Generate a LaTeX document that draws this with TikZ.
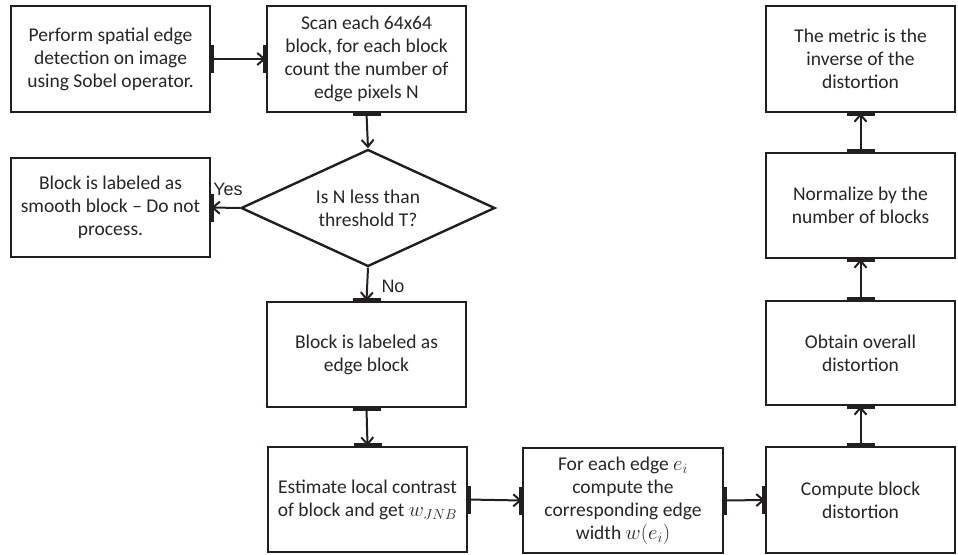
\documentclass[tikz,border=0pt]{standalone}
\usepackage{fontspec}
\setmainfont{Carlito}
\newfontfamily\labelfont{Liberation Sans}
\usetikzlibrary{shapes.geometric,arrows.meta}
\definecolor{ink}{HTML}{231F20}
\definecolor{txt}{HTML}{262626}
\tikzset{
  box/.style={draw=ink, line width=2.4pt, rectangle, align=center, inner sep=2pt,
    font=\fontsize{19.5}{23}\selectfont, text=txt},
  conn/.style={draw=ink, line width=2pt, -{Straight Barb[length=7pt,width=12pt,line width=2pt]}},
  tab/.style={draw=ink, line width=5pt},
  lbl/.style={font=\labelfont\fontsize{18}{20}\selectfont, text=txt, inner sep=0pt},
}
\begin{document}
\begin{tikzpicture}[x=1pt,y=-1pt]
\useasboundingbox (0,0) rectangle (958,554);
% boxes
\node[box, minimum width=199pt, minimum height=106pt] (b1) at (110.5,59)
  {Perform spatial edge\\detection on image\\using Sobel operator.};
\node[box, minimum width=199pt, minimum height=106pt] (b2) at (366.5,59)
  {Scan each 64x64\\block, for each block\\count the number of\\edge pixels N};
\node[draw=ink, line width=2.4pt, diamond, shape aspect=2.2, inner sep=0pt,
  minimum width=254pt, minimum height=117pt, align=center,
  font=\fontsize{19.5}{23}\selectfont, text=txt] (d) at (368,208)
  {Is N less than\\threshold T?};
\node[box, minimum width=199pt, minimum height=99pt] (sm) at (110.5,207.5)
  {Block is labeled as\\smooth block -- Do not\\process.};
\node[box, minimum width=199pt, minimum height=105pt] (eb) at (366.5,354.5)
  {Block is labeled as\\edge block};
\node[box, minimum width=199pt, minimum height=105pt] (es) at (367.5,499.5)
  {Estimate local contrast\\of block and get $w_{JNB}$};
\node[box, minimum width=200pt, minimum height=105pt] (fe) at (623,500.5)
  {For each edge $e_i$\\compute the\\corresponding edge\\width $w(e_i)$};
\node[box, minimum width=189pt, minimum height=106pt] (cb) at (860.5,500)
  {Compute block\\distortion};
\node[box, minimum width=189pt, minimum height=104pt] (ob) at (860.5,353)
  {Obtain overall\\distortion};
\node[box, minimum width=189pt, minimum height=105pt] (nb) at (860.5,205.5)
  {Normalize by the\\number of blocks};
\node[box, minimum width=189pt, minimum height=106pt] (mt) at (860.5,59)
  {The metric is the\\inverse of the\\distortion};
% connection tabs
\draw[tab] ([yshift=-14pt]b1.east) -- ([yshift=14pt]b1.east);
\draw[tab] ([yshift=-14pt]b2.west) -- ([yshift=14pt]b2.west);
\draw[tab] ([xshift=-14pt]b2.south) -- ([xshift=14pt]b2.south);
\draw[tab] ([yshift=-14pt]sm.east) -- ([yshift=14pt]sm.east);
\draw[tab] ([xshift=-14pt]eb.north) -- ([xshift=14pt]eb.north);
\draw[tab] ([xshift=-14pt]eb.south) -- ([xshift=14pt]eb.south);
\draw[tab] ([xshift=-14pt]es.north) -- ([xshift=14pt]es.north);
\draw[tab] ([yshift=-14pt]es.east) -- ([yshift=14pt]es.east);
\draw[tab] ([yshift=-14pt]fe.west) -- ([yshift=14pt]fe.west);
\draw[tab] ([yshift=-14pt]fe.east) -- ([yshift=14pt]fe.east);
\draw[tab] ([yshift=-14pt]cb.west) -- ([yshift=14pt]cb.west);
\draw[tab] ([xshift=-14pt]cb.north) -- ([xshift=14pt]cb.north);
\draw[tab] ([xshift=-14pt]ob.north) -- ([xshift=14pt]ob.north);
\draw[tab] ([xshift=-14pt]ob.south) -- ([xshift=14pt]ob.south);
\draw[tab] ([xshift=-14pt]nb.north) -- ([xshift=14pt]nb.north);
\draw[tab] ([xshift=-14pt]nb.south) -- ([xshift=14pt]nb.south);
\draw[tab] ([xshift=-14pt]mt.south) -- ([xshift=14pt]mt.south);
% connectors
\draw[conn] (b1.east) -- (b2.west);
\draw[conn] (b2.south) -- (d.north);
\draw[conn] (d.west) -- (sm.east);
\draw[conn] (d.south) -- (eb.north);
\draw[conn] (eb.south) -- (es.north);
\draw[conn] (es.east) -- (fe.west);
\draw[conn] (fe.east) -- (cb.west);
\draw[conn] (cb.north) -- (ob.south);
\draw[conn] (ob.north) -- (nb.south);
\draw[conn] (nb.north) -- (mt.south);
% labels
\node[lbl] (yes) at (228,189) {Yes};
\node[lbl] (no) at (393,286) {No};
\end{tikzpicture}
\end{document}
